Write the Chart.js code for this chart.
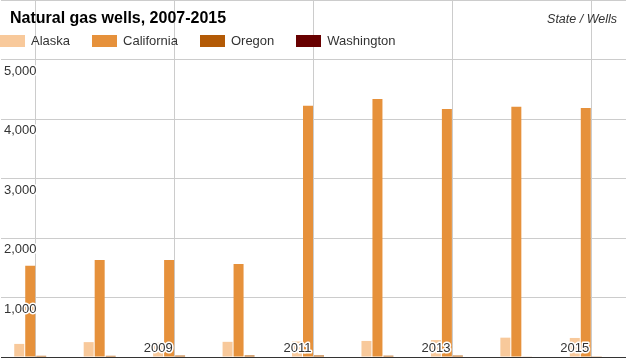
<!DOCTYPE html>
<html lang="en">

<head>
    <meta charset="UTF-8">
    <title>Natural gas wells, 2007-2015</title>
    <script src="https://cdn.jsdelivr.net/npm/chart.js@4"></script>
    <style>
        body { margin: 0; background: #fff; font-family: "Liberation Sans", Arial, sans-serif; }
        #box { position: relative; width: 626px; height: 358px; }
        #grafico { position: absolute; left: 0; top: 0; }
        #titulo { position: absolute; left: 10px; top: 9px; font-size: 16px; line-height: 18px; font-weight: bold; color: #000; }
        #unidade { position: absolute; right: 9px; top: 11px; font-size: 12.5px; line-height: 16px; font-style: italic; color: #333; }
        #legenda { position: absolute; left: 0; top: 33px; display: flex; gap: 22px; font-size: 13px; line-height: 15px; color: #333; }
        .item { display: flex; align-items: center; gap: 6px; }
        .cor { width: 25px; height: 12px; }
    </style>
</head>

<body>
    <div id="box">
        <canvas id="grafico" width="626" height="358"></canvas>
        <div id="titulo">Natural gas wells, 2007-2015</div>
        <div id="unidade">State / Wells</div>
        <div id="legenda"></div>
    </div>

<script>
    // anos e valores
    const years = ['2007', '2008', '2009', '2010', '2011', '2012', '2013', '2014', '2015']
    const states = ['Alaska', 'California', 'Oregon', 'Washington']
    const alaska = [220, 250, 240, 255, 260, 270, 285, 325, 320]
    const california = [1534, 1630, 1630, 1563, 4224, 4336, 4168, 4207, 4185]
    const oregon = [20, 20, 24, 26, 26, 22, 24, 10, 12]
    const washington = [0, 0, 0, 0, 0, 0, 0, 0, 0]
    const xTicks = ['2009', '2011', '2013', '2015']
    const yTicks = [1000, 2000, 3000, 4000, 5000]

    const cores = ['#f8c99b', '#e6913b', '#b35a06', '#680000']
    const series = [alaska, california, oregon, washington]

    // legenda em html por cima do canvas
    const legenda = document.getElementById('legenda')
    states.forEach((nome, i) => {
        legenda.innerHTML += `<div class="item"><div class="cor" style="background:${cores[i]}"></div>${nome}</div>`
    })

    // rotulos dos eixos desenhados por cima das barras, com contorno branco
    const rotulos = {
        id: 'rotulos',
        afterDatasetsDraw(chart) {
            const ctx = chart.ctx
            const x = chart.scales.x
            const y = chart.scales.y
            ctx.save()
            ctx.font = '13px "Liberation Sans", Arial, sans-serif'
            ctx.lineJoin = 'round'
            ctx.lineWidth = 3
            ctx.strokeStyle = '#fff'
            ctx.fillStyle = '#333'
            ctx.textBaseline = 'middle'

            ctx.textAlign = 'left'
            yTicks.forEach(v => {
                const py = y.getPixelForValue(v) + 11.5
                const txt = v.toLocaleString('en-US')
                ctx.strokeText(txt, 4, py)
                ctx.fillText(txt, 4, py)
            })

            ctx.textAlign = 'right'
            xTicks.forEach(ano => {
                const px = x.getPixelForValue(years.indexOf(ano)) - 2
                const py = chart.chartArea.bottom - 9
                ctx.strokeText(ano, px, py)
                ctx.fillText(ano, px, py)
            })
            ctx.restore()
        }
    }

    const data = {
        labels: years,
        datasets: states.map((nome, i) => ({
            label: nome,
            data: series[i],
            backgroundColor: cores[i],
            borderWidth: 0,
            categoryPercentage: 0.633,
            barPercentage: 0.91
        }))
    }

    const config = {
        type: 'bar',
        data: data,
        options: {
            responsive: false,
            animation: false,
            layout: { padding: { left: 1, bottom: 1 } },
            plugins: {
                legend: { display: false },
                title: { display: false },
                tooltip: { enabled: false }
            },
            scales: {
                x: {
                    grid: {
                        offset: false,
                        drawTicks: false,
                        color: c => c.index % 2 === 0 ? '#cccccc' : 'rgba(0,0,0,0)'
                    },
                    border: { display: true, color: '#333', width: 1 },
                    ticks: { display: false }
                },
                y: {
                    min: 0,
                    max: 6000,
                    grid: { color: '#cccccc', drawTicks: false },
                    border: { display: false },
                    ticks: { display: false, stepSize: 1000 }
                }
            }
        },
        plugins: [rotulos]
    }

    const grafico = new Chart(document.getElementById('grafico'), config)
</script>
</body>

</html>
